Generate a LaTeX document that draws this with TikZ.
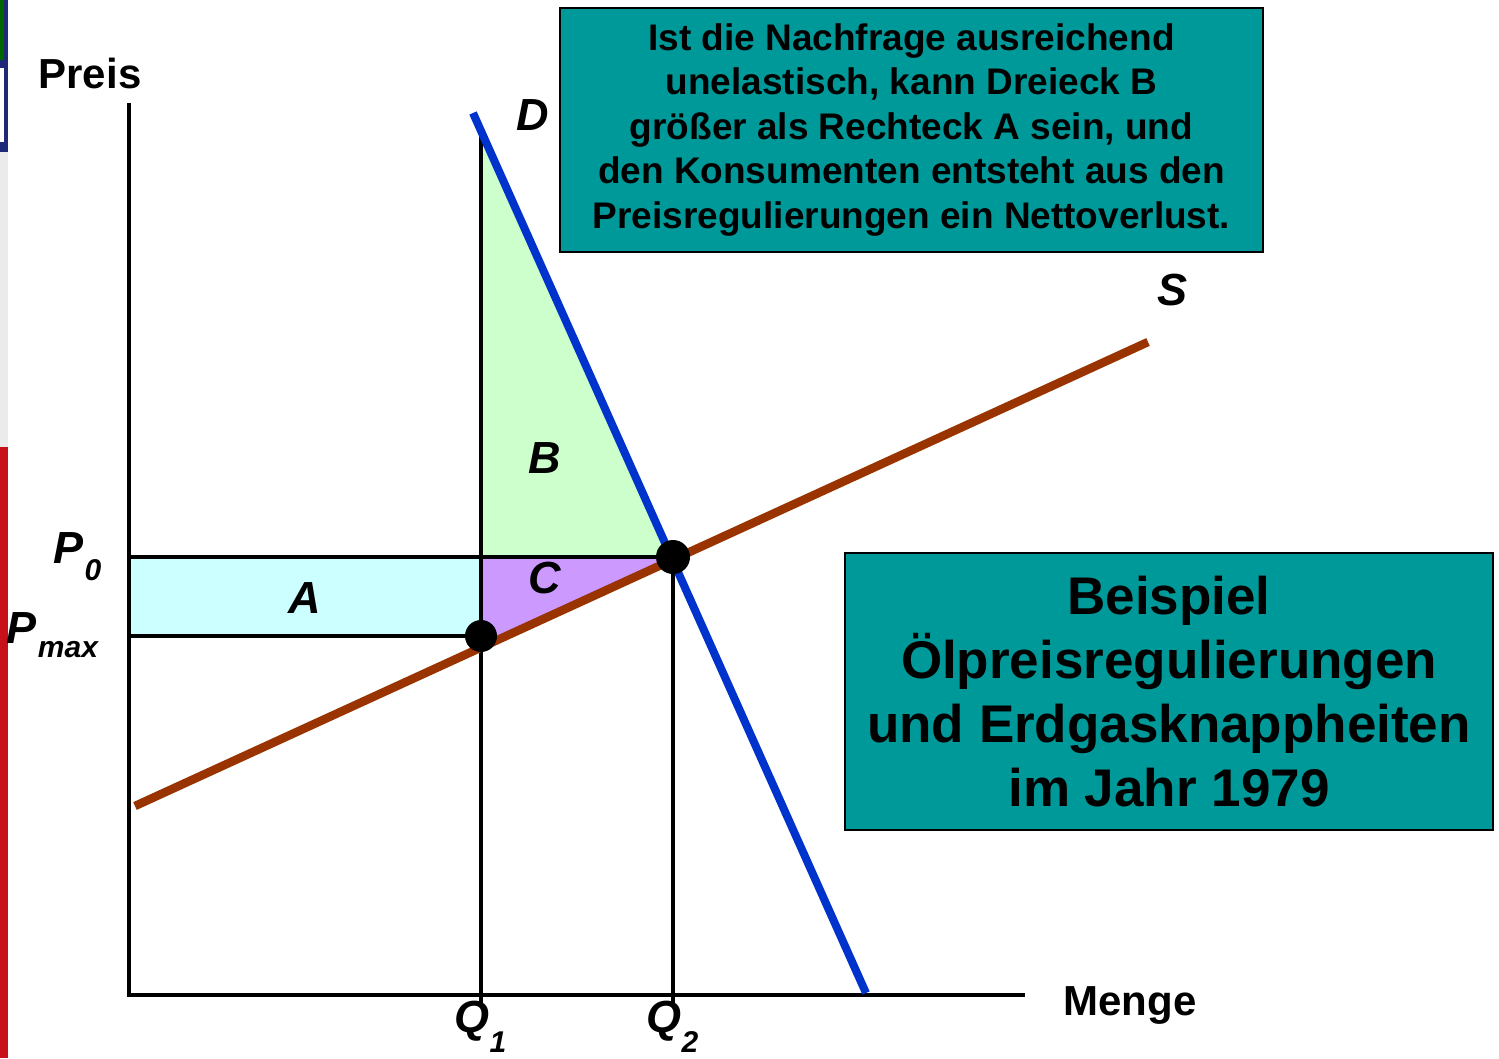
\documentclass[tikz,border=0pt]{standalone}
\usepackage{fontspec}
\setmainfont{Liberation Sans}
\definecolor{teal}{RGB}{0,153,153}
\definecolor{dblue}{RGB}{0,51,204}
\definecolor{sbrown}{RGB}{153,51,0}
\definecolor{bgreen}{RGB}{204,255,204}
\definecolor{acyan}{RGB}{204,255,255}
\definecolor{cpurple}{RGB}{204,153,255}
\definecolor{sred}{RGB}{200,16,26}
\definecolor{snavy}{RGB}{32,40,120}
\begin{document}
\begin{tikzpicture}[x=1pt, y=-1pt,
    lbl/.style={font=\fontsize{45}{45}\selectfont\bfseries\itshape, inner sep=0pt},
    sub/.style={font=\fontsize{30}{30}\selectfont\bfseries\itshape, inner sep=0pt},
    axlbl/.style={font=\fontsize{42}{42}\selectfont\bfseries, inner sep=0pt},
    infobox/.style={draw, line width=2.5pt, fill=teal, align=center, inner sep=0pt},
    guide/.style={line width=4pt},
    dot/.style={circle, fill=black, inner sep=0pt}]
\useasboundingbox (0,0) rectangle (1499,1058);
% slide edge
\fill[sred] (0,447) rectangle (8,1058);
\fill[black!8] (0,152) rectangle (8,447);
\fill[snavy] (0,0) rectangle (8,152);
\fill[white] (0,68) rectangle (4,142);
\fill[green!40!black] (0,0) rectangle (4,60);
% points
\coordinate (O) at (129,995);
\coordinate (ytop) at (129,103);
\coordinate (xend) at (1025,995);
\coordinate (E) at (673,557);
\coordinate (G) at (481,127);
\coordinate (H) at (481,557);
\coordinate (I) at (481,636);
\coordinate (F) at (481,647);
\coordinate (P0) at (129,557);
\coordinate (Pm) at (129,636);
\coordinate (Q1) at (481,1004);
\coordinate (Q2) at (673,1004);
\coordinate (Dtop) at (473,113);
\coordinate (Dbot) at (866,993);
\coordinate (Slow) at (135,806);
\coordinate (Shigh) at (1148,342);
% areas
\fill[bgreen] (G) -- (H) -- (E) -- cycle;
\fill[cpurple] (H) -- (E) -- (F) -- cycle;
\fill[acyan] (P0) rectangle (I);
% axes and guides
\draw[guide] (ytop) -- (O) -- (xend);
\draw[guide] (P0) -- (E);
\draw[guide] (Pm) -- (I);
\draw[guide] (G) -- (Q1);
\draw[guide] (E) -- (Q2);
% curves
\draw[dblue, line width=8pt] (Dtop) -- (Dbot);
\draw[sbrown, line width=8.5pt] (Slow) -- (Shigh);
\node[dot, minimum size=34pt] (eq) at (E) {};
\node[dot, minimum size=32pt] (pm) at (I) {};
% labels
\node[axlbl] (preis) at (90,73) {Preis};
\node[axlbl] (menge) at (1130,1005) {Menge};
\node[lbl] (dl) at (533,115) {D};
\node[lbl] (sl) at (1172,290) {S};
\node[lbl] (bl) at (545,458) {B};
\node[lbl] (cl) at (545,578) {C};
\node[lbl] (al) at (305,598) {A};
\node[lbl] (p0) at (69,548) {P};
\node[sub] (p0s) at (93,570) {0};
\node[lbl] (pmx) at (22,628) {P};
\node[sub] (pmxs) at (68,650) {max};
\node[lbl] (q1) at (472,1021) {Q};
\node[sub] (q1s) at (498,1042) {1};
\node[lbl] (q2) at (664,1021) {Q};
\node[sub] (q2s) at (690,1042) {2};
% boxes
\node[infobox, minimum width=703pt, minimum height=244pt,
    font=\fontsize{37}{44.5}\selectfont\bfseries] (note) at (911.5,130)
    {Ist die Nachfrage ausreichend\\ unelastisch, kann Dreieck B\\ größer als Rechteck A sein, und\\ den Konsumenten entsteht aus den\\ Preisregulierungen ein Nettoverlust.};
\node[infobox, minimum width=648pt, minimum height=277pt,
    font=\fontsize{53}{64}\selectfont\bfseries] (title) at (1169,691.5)
    {Beispiel\\ Ölpreisregulierungen\\ und Erdgasknappheiten\\ im Jahr 1979};
\end{tikzpicture}
\end{document}
